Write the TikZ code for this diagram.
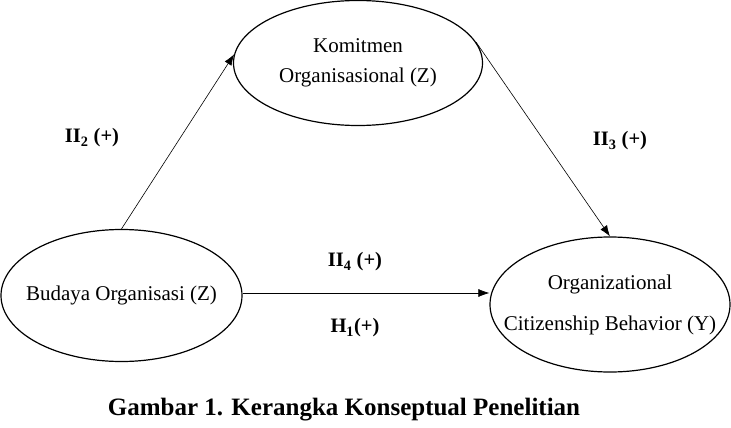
\documentclass[tikz,border=0pt]{standalone}
\usepackage{fontspec}
\setmainfont{Liberation Serif}
\usetikzlibrary{shapes.geometric,arrows.meta}
\begin{document}
\begin{tikzpicture}[x=1pt,y=-1pt,
  var/.style={draw,ellipse,line width=1.2pt,inner sep=0pt},
  vtext/.style={align=center,font=\fontsize{21}{30}\selectfont,inner sep=0pt},
  link/.style={line width=0.6pt,-{Latex[length=11pt,width=8pt]}},
  hyp/.style={font=\fontsize{20.5}{24}\selectfont\bfseries,inner sep=0pt}]
\useasboundingbox (0,0) rectangle (731,428);
\node[var,minimum width=249pt,minimum height=125pt] (komit) at (358,63) {};
\node[vtext] (komitt) at (komit.center) {Komitmen\\Organisasional (Z)};
\node[var,minimum width=241pt,minimum height=132pt] (budaya) at (121.5,295.5) {};
\node[vtext] (budayat) at (budaya.center) {Budaya Organisasi (Z)};
\node[var,minimum width=240pt,minimum height=135pt] (ocb) at (610,304.5) {};
\node[vtext,font=\fontsize{21}{41}\selectfont] (ocbt) at (ocb.center) {Organizational\\Citizenship Behavior (Y)};
\draw[link] (budaya.north) -- (komit.176);
\draw[link] (komit.10) -- (ocb.north);
\draw[link] (budaya.east |- 0,293) coordinate (s) -- (s -| ocb.west);
\node[hyp] (h2) at (92,138) {II\textsubscript{2} (+)};
\node[hyp] (h3) at (620,141) {II\textsubscript{3} (+)};
\node[hyp] (h4) at (355,262) {II\textsubscript{4} (+)};
\node[hyp] (h1) at (355,328) {H\textsubscript{1}(+)};
\node[font=\fontsize{25}{30}\selectfont\bfseries,inner sep=0pt] (cap) at (344,410) {Gambar 1. Kerangka Konseptual Penelitian};
\end{tikzpicture}
\end{document}
